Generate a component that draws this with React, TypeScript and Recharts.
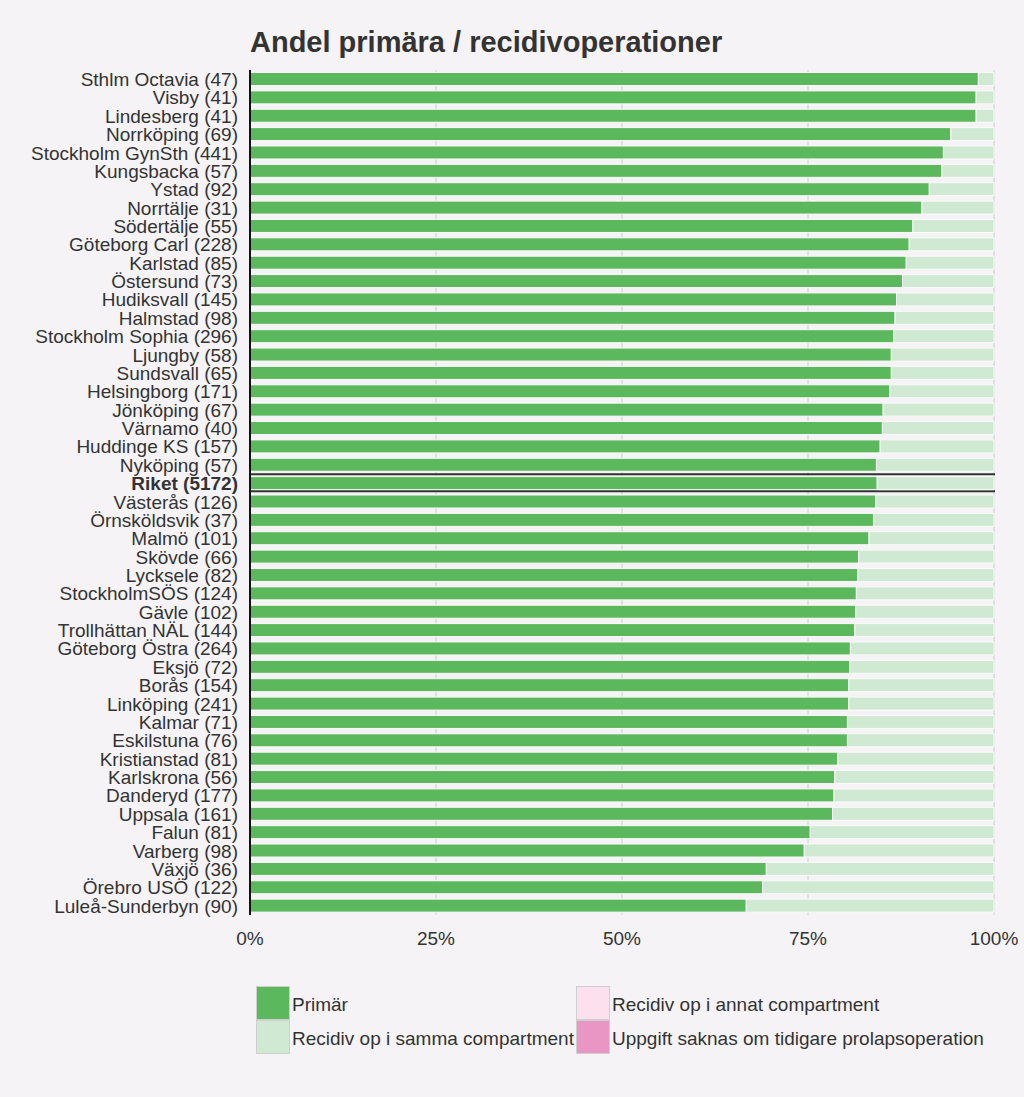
import React from "react";
import { BarChart, Bar, XAxis, YAxis, CartesianGrid } from "recharts";

const categories = [
  "Sthlm Octavia (47)", "Visby (41)", "Lindesberg (41)", "Norrköping (69)", "Stockholm GynSth (441)",
  "Kungsbacka (57)", "Ystad (92)", "Norrtälje (31)", "Södertälje (55)", "Göteborg Carl (228)",
  "Karlstad (85)", "Östersund (73)", "Hudiksvall (145)", "Halmstad (98)", "Stockholm Sophia (296)",
  "Ljungby (58)", "Sundsvall (65)", "Helsingborg (171)", "Jönköping (67)", "Värnamo (40)",
  "Huddinge KS (157)", "Nyköping (57)", "Riket (5172)", "Västerås (126)", "Örnsköldsvik (37)",
  "Malmö (101)", "Skövde (66)", "Lycksele (82)", "StockholmSÖS (124)", "Gävle (102)",
  "Trollhättan NÄL (144)", "Göteborg Östra (264)", "Eksjö (72)", "Borås (154)", "Linköping (241)",
  "Kalmar (71)", "Eskilstuna (76)", "Kristianstad (81)", "Karlskrona (56)", "Danderyd (177)",
  "Uppsala (161)", "Falun (81)", "Varberg (98)", "Växjö (36)", "Örebro USÖ (122)", "Luleå-Sunderbyn (90)",
];

const primar = [
  97.9, 97.6, 97.6, 94.2, 93.2, 93.0, 91.3, 90.3, 89.1, 88.6,
  88.2, 87.7, 86.9, 86.7, 86.5, 86.2, 86.2, 86.0, 85.1, 85.0,
  84.7, 84.2, 84.3, 84.1, 83.8, 83.2, 81.8, 81.7, 81.5, 81.4,
  81.3, 80.7, 80.6, 80.5, 80.5, 80.3, 80.3, 79.0, 78.6, 78.5,
  78.3, 75.3, 74.5, 69.4, 68.9, 66.7,
];

const recidivSamma = [
  2.1, 2.4, 2.4, 5.8, 6.8, 7.0, 8.7, 9.7, 10.9, 11.4,
  11.8, 12.3, 13.1, 13.3, 13.5, 13.8, 13.8, 14.0, 14.9, 15.0,
  15.3, 15.8, 15.7, 15.9, 16.2, 16.8, 18.2, 18.3, 18.5, 18.6,
  18.7, 19.3, 19.4, 19.5, 19.5, 19.7, 19.7, 21.0, 21.4, 21.5,
  21.7, 24.7, 25.5, 30.6, 31.1, 33.3,
];

const recidivAnnat = categories.map(() => 0);
const uppgiftSaknas = categories.map(() => 0);

const xTicks = [0, 25, 50, 75, 100];

const RIKET = "Riket (5172)";

const series = [
  { key: "primar", name: "Primär", color: "#5cb85c" },
  { key: "samma", name: "Recidiv op i samma compartment", color: "#d0e9d3" },
  { key: "annat", name: "Recidiv op i annat compartment", color: "#fde0ee" },
  { key: "saknas", name: "Uppgift saknas om tidigare prolapsoperation", color: "#e996c4" },
];

const data = categories.map((name, i) => ({
  name,
  primar: primar[i],
  samma: recidivSamma[i],
  annat: recidivAnnat[i],
  saknas: uppgiftSaknas[i],
}));

const FONT = "'Liberation Sans', Arial, sans-serif";
const BG = "#f5f3f5";
const EDGE = "#fbfbfb";

const YTick = (props: any) => {
  const { x, y, payload } = props;
  const bold = payload.value === RIKET;
  return (
    <text
      x={x}
      y={y}
      dy="0.36em"
      textAnchor="end"
      fontFamily={FONT}
      fontSize={19}
      fontWeight={bold ? "bold" : "normal"}
      fill="#333"
    >
      {payload.value}
    </text>
  );
};

const PrimarShape = (props: any) => {
  const { x, y, width, height, fill, payload } = props;
  const isRiket = payload && payload.name === RIKET;
  const full = isRiket ? (width * 100) / payload.primar : 0;
  return (
    <g>
      <rect x={x} y={y} width={width} height={height} fill={fill} stroke={EDGE} strokeWidth={1} />
      {isRiket && (
        <g>
          <line x1={x} x2={x + full + 1} y1={y - 2.5} y2={y - 2.5} stroke="#333" strokeWidth={2} />
          <line x1={x} x2={x + full + 1} y1={y + height + 1.5} y2={y + height + 1.5} stroke="#333" strokeWidth={2} />
        </g>
      )}
    </g>
  );
};

export default function App() {
  return (
    <div
      style={{
        position: "absolute",
        left: 0,
        top: 0,
        width: 1024,
        height: 1097,
        background: BG,
        fontFamily: FONT,
      }}
    >
      <div
        style={{
          position: "absolute",
          left: 250,
          top: 24,
          fontSize: 29,
          fontWeight: "bold",
          color: "#333",
          lineHeight: "36px",
          whiteSpace: "nowrap",
        }}
      >
        Andel primära / recidivoperationer
      </div>
      <div style={{ position: "absolute", left: 0, top: 0 }}>
        <BarChart
          width={1024}
          height={1097}
          data={data}
          layout="vertical"
          margin={{ top: 70, right: 30, left: 0, bottom: 142 }}
          barCategoryGap={2.5}
        >
          <CartesianGrid horizontal={false} vertical stroke="#cccccc" />
          <XAxis
            type="number"
            domain={[0, 100]}
            ticks={xTicks}
            tickFormatter={(v: number) => `${v}%`}
            axisLine={false}
            tickLine={false}
            tickSize={0}
            tickMargin={17}
            height={40}
            interval={0}
            tick={{ fontFamily: FONT, fontSize: 19, fill: "#333" }}
          />
          <YAxis
            type="category"
            dataKey="name"
            width={250}
            interval={0}
            tickLine={false}
            tickSize={0}
            tickMargin={12}
            axisLine={{ stroke: "#111", strokeWidth: 2 }}
            tick={<YTick />}
          />
          <Bar dataKey="primar" stackId="a" fill={series[0].color} isAnimationActive={false} shape={<PrimarShape />} />
          <Bar dataKey="samma" stackId="a" fill={series[1].color} stroke={EDGE} strokeWidth={1} isAnimationActive={false} />
          <Bar dataKey="annat" stackId="a" fill={series[2].color} isAnimationActive={false} />
          <Bar dataKey="saknas" stackId="a" fill={series[3].color} isAnimationActive={false} />
        </BarChart>
      </div>
      <div
        style={{
          position: "absolute",
          left: 256,
          top: 986,
          display: "grid",
          gridTemplateColumns: "320px 420px",
          gridTemplateRows: "34px 34px",
          gridAutoFlow: "column",
          fontSize: 19,
          color: "#333",
        }}
      >
        {series.map((s) => (
          <div key={s.key} style={{ display: "flex", alignItems: "center", height: 34 }}>
            <div
              style={{
                width: 32,
                height: 32,
                background: s.color,
                border: "1px solid #cfcfcf",
                flex: "none",
              }}
            />
            <span style={{ marginLeft: 2, whiteSpace: "nowrap", position: "relative", top: 2 }}>{s.name}</span>
          </div>
        ))}
      </div>
    </div>
  );
}
